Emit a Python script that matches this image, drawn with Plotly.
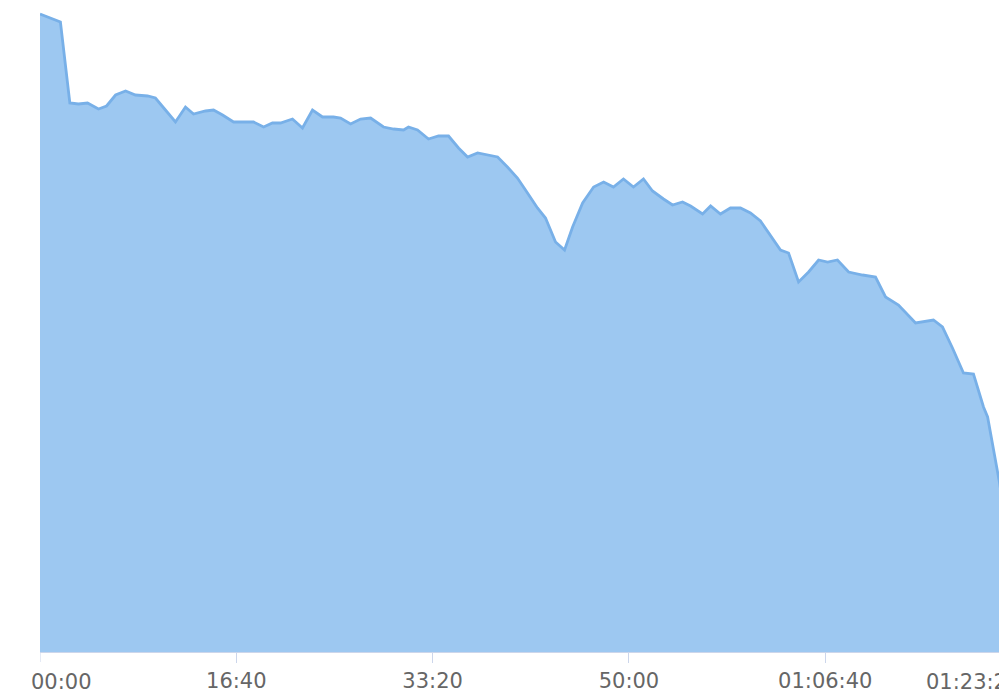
import plotly.graph_objects as go

# elapsed time in seconds
seconds = [0, 104, 152, 196, 242, 298, 339, 385, 436, 486, 548, 588, 639, 690, 741, 782,
           843, 884, 930, 986, 1037, 1088, 1139, 1184, 1225, 1286, 1337, 1388, 1439, 1495,
           1531, 1582, 1633, 1684, 1750, 1801, 1852, 1877, 1923, 1979, 2030, 2081, 2132,
           2178, 2229, 2280, 2331, 2381, 2432, 2473, 2534, 2575, 2626, 2672, 2713, 2764,
           2820, 2871, 2921, 2972, 3023, 3074, 3120, 3176, 3222, 3273, 3314, 3375, 3416,
           3466, 3517, 3568, 3619, 3670, 3721, 3772, 3813, 3864, 3915, 3966, 4012, 4062,
           4119, 4190, 4256, 4307, 4373, 4460, 4551, 4597, 4648, 4704, 4755, 4806, 4827,
           4888, 4918]
values = [638, 630, 549, 548, 549, 543, 546, 557, 561, 557, 556, 554, 542, 530, 545, 538,
          541, 542, 537, 530, 530, 530, 525, 529, 529, 533, 524, 542, 535, 535,
          534, 528, 533, 534, 525, 523, 522, 525, 522, 513, 516, 516, 504,
          495, 499, 497, 495, 485, 474, 462, 444, 434, 410, 402, 425, 449,
          465, 470, 465, 473, 465, 473, 461, 453, 447, 450, 446, 438, 446,
          438, 444, 444, 439, 431, 417, 402, 399, 370, 380, 392, 390, 392,
          380, 377, 375, 355, 347, 329, 332, 325, 304, 279, 278, 245, 235,
          169, 130]

tick_vals = [0, 1000, 2000, 3000, 4000, 5000]
tick_text = ["00:00", "16:40", "33:20", "50:00", "01:06:40", "01:23:20"]

fig = go.Figure()
fig.add_trace(go.Scatter(
    x=seconds, y=values, mode="lines", fill="tozeroy",
    line=dict(color="#78b0e8", width=2.8),
    fillcolor="rgba(124,181,236,0.75)",
    hoverinfo="skip", showlegend=False,
))

font = dict(family="DejaVu Sans", size=21, color="#666666")

fig.update_layout(
    width=999, height=691,
    margin=dict(l=40, r=0, t=0, b=39, autoexpand=False),
    paper_bgcolor="white", plot_bgcolor="white",
    xaxis=dict(
        range=[0, 4885], tickvals=tick_vals[1:5], ticktext=tick_text[1:5],
        ticks="outside", ticklen=10, tickcolor="#ccd6eb", tickwidth=1,
        ticklabelstandoff=0, automargin=False,
        showline=True, linecolor="#ccd6eb", linewidth=1,
        showgrid=False, zeroline=False, tickfont=font, fixedrange=True,
    ),
    yaxis=dict(range=[0, 652], visible=False, fixedrange=True, automargin=False),
)

# first and last labels (edge-justified / clipped as in the original)
fig.add_annotation(x=tick_vals[0], y=0, xref="x", yref="paper", text=tick_text[0],
                   showarrow=False, xanchor="left", yanchor="top", xshift=-11, yshift=-16,
                   font=font)
fig.add_annotation(x=1, y=0, xref="paper", yref="paper", text=tick_text[5],
                   showarrow=False, xanchor="left", yanchor="top", xshift=-75, yshift=-16,
                   font=font)
# tick mark at 00:00
fig.add_shape(type="line", xref="x", yref="paper", x0=0, x1=0, y0=0, y1=-10,
              ysizemode="pixel", yanchor=0, line=dict(color="#ccd6eb", width=1))

fig.write_html(
    "out.html",
    config={"displayModeBar": False},
    post_script="document.body.style.margin='0';document.body.style.overflow='hidden';",
)
